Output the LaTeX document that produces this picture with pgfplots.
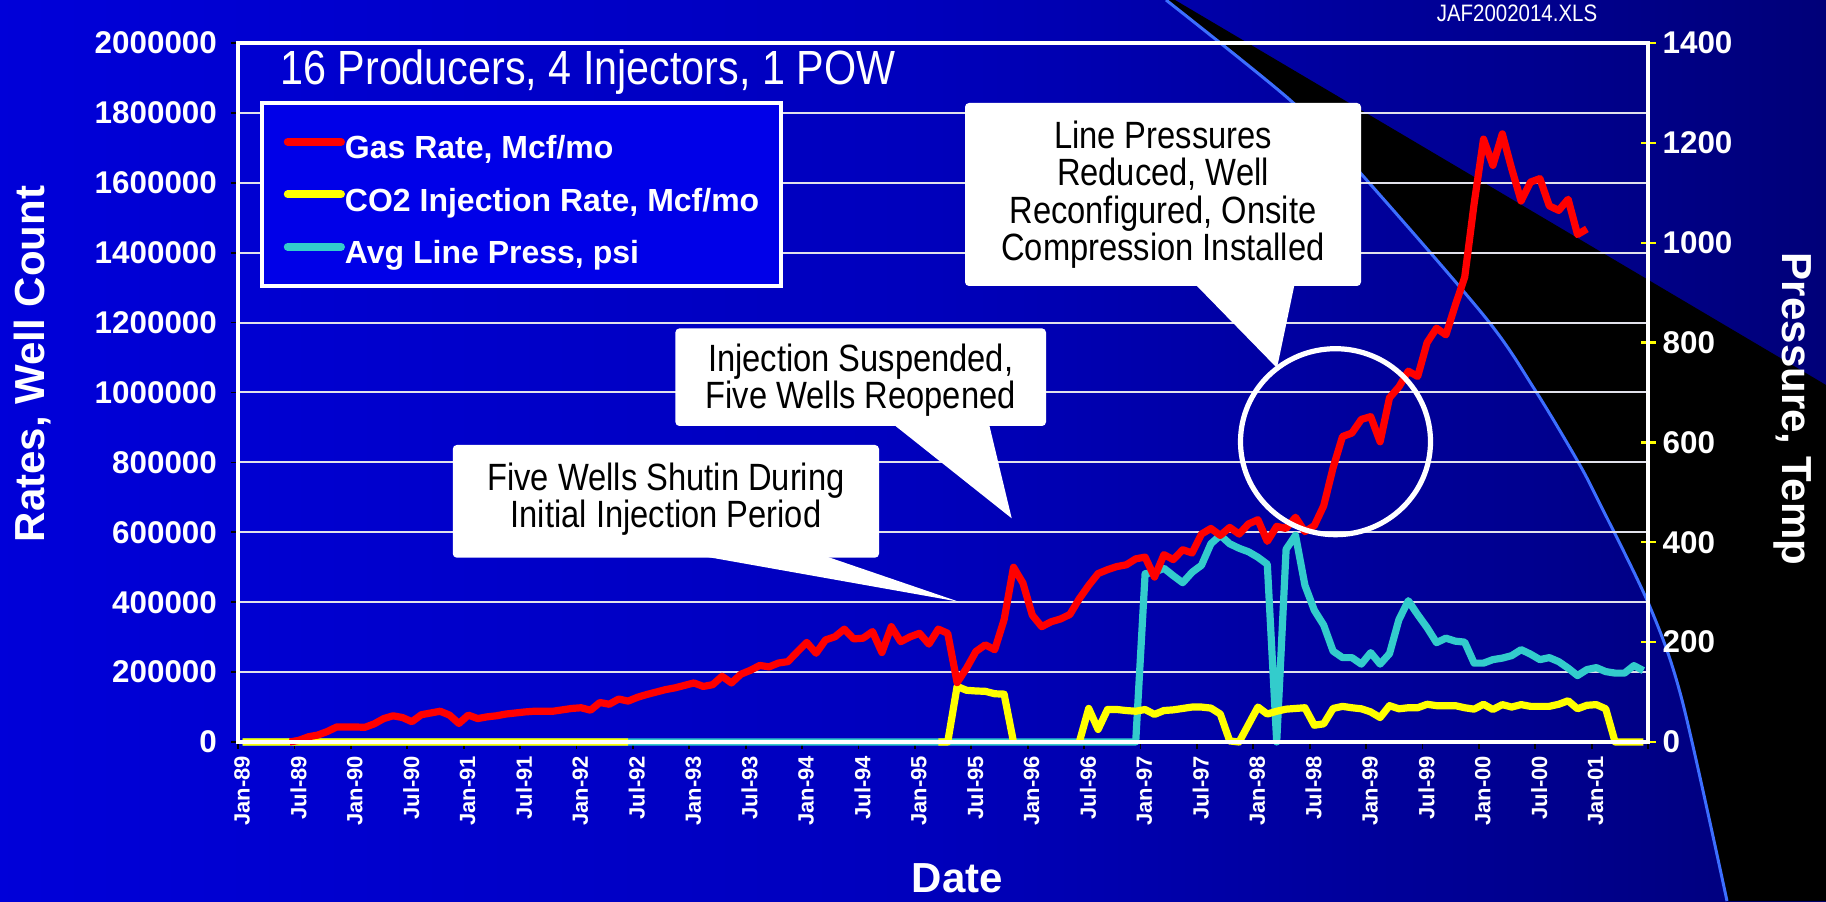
\documentclass[border=0pt]{standalone}
\usepackage{fontspec}
\setmainfont{Liberation Sans}
\newfontfamily\narrow[FakeStretch=0.86]{Liberation Sans}
\usepackage{pgfplots}
\pgfplotsset{compat=1.18}
\usepackage{pgfplotstable}

\definecolor{gasred}{RGB}{255,0,0}
\definecolor{co2yel}{RGB}{255,255,0}
\definecolor{presscyan}{RGB}{51,204,204}
\definecolor{arcblue}{RGB}{60,110,255}
\definecolor{legblue}{RGB}{0,0,232}
\definecolor{gridgray}{RGB}{225,225,235}

\pgfdeclarehorizontalshading{bgshade}{100bp}{rgb(0bp)=(0,0,0.96); rgb(50bp)=(0,0,0.74); rgb(80bp)=(0,0,0.42); rgb(100bp)=(0,0,0.22)}

% Gas rate, Mcf/mo (x = months since Jan-89, point at mid-month)
\pgfplotstableread[row sep=\\]{
x y\\
5.5 0\\6.5 5000\\7.5 15000\\8.5 20000\\9.5 30000\\
10.5 43000\\11.5 43000\\12.5 43000\\13.5 42000\\14.5 52000\\15.5 67000\\16.5 75000\\17.5 70000\\18.5 58000\\19.5 78000\\
20.5 83000\\21.5 88000\\22.5 77000\\23.5 53000\\24.5 77000\\25.5 67000\\26.5 72000\\27.5 75000\\28.5 80000\\29.5 83000\\
30.5 86000\\31.5 88000\\32.5 88000\\33.5 88000\\34.5 92000\\35.5 96000\\36.5 98000\\37.5 91000\\38.5 113000\\39.5 108000\\
40.5 123000\\41.5 117000\\42.5 128000\\43.5 136000\\44.5 143000\\45.5 150000\\46.5 155000\\47.5 162000\\48.5 169000\\49.5 159000\\
50.5 164000\\51.5 188000\\52.5 169000\\53.5 194000\\54.5 205000\\55.5 219000\\56.5 215000\\57.5 226000\\58.5 230000\\59.5 258000\\
60.5 285000\\61.5 254000\\62.5 292000\\63.5 301000\\64.5 323000\\65.5 295000\\66.5 297000\\67.5 316000\\68.5 256000\\69.5 330000\\
70.5 287000\\71.5 301000\\72.5 311000\\73.5 280000\\74.5 323000\\75.5 311000\\76.5 170000\\77.5 211000\\78.5 259000\\79.5 278000\\
80.5 264000\\81.5 350000\\82.5 500000\\83.5 455000\\84.5 363000\\85.5 330000\\86.5 344000\\87.5 352000\\88.5 365000\\89.5 410000\\
90.5 448000\\91.5 482000\\92.5 493000\\93.5 502000\\94.5 507000\\95.5 524000\\96.5 529000\\97.5 472000\\98.5 536000\\99.5 522000\\
100.5 550000\\101.5 541000\\102.5 595000\\103.5 611000\\104.5 591000\\105.5 614000\\106.5 595000\\107.5 624000\\108.5 636000\\109.5 574000\\
110.5 617000\\111.5 611000\\112.5 643000\\113.5 602000\\114.5 619000\\115.5 676000\\116.5 785000\\117.5 874000\\118.5 884000\\119.5 923000\\
120.5 931000\\121.5 859000\\122.5 985000\\123.5 1016000\\124.5 1061000\\125.5 1046000\\126.5 1143000\\127.5 1184000\\128.5 1165000\\129.5 1250000\\
130.5 1330000\\131.5 1540000\\132.5 1725000\\133.5 1650000\\134.5 1740000\\135.5 1640000\\136.5 1548000\\137.5 1602000\\138.5 1612000\\139.5 1534000\\
140.5 1521000\\141.5 1553000\\142.5 1452000\\143.5 1468000\\
}\gasdata

% CO2 injection rate, Mcf/mo (nan = no value)
\pgfplotstableread[row sep=\\]{
x y\\
0.5 0\\1.5 0\\2.5 0\\3.5 0\\4.5 0\\5.5 0\\6.5 0\\7.5 0\\8.5 0\\9.5 0\\
10.5 0\\11.5 0\\12.5 0\\13.5 0\\14.5 0\\15.5 0\\16.5 0\\17.5 0\\18.5 0\\19.5 0\\
20.5 0\\21.5 0\\22.5 0\\23.5 0\\24.5 0\\25.5 0\\26.5 0\\27.5 0\\28.5 0\\29.5 0\\
30.5 0\\31.5 0\\32.5 0\\33.5 0\\34.5 0\\35.5 0\\36.5 0\\37.5 0\\38.5 0\\39.5 0\\
40.5 0\\41.5 0\\42.5 nan\\
74.5 0\\75.5 0\\76.5 159000\\77.5 148000\\78.5 146000\\79.5 145000\\80.5 138000\\81.5 137000\\82.5 0\\83.5 nan\\
89.5 0\\90.5 96000\\91.5 36000\\92.5 93000\\93.5 93000\\94.5 90000\\95.5 88000\\96.5 93000\\97.5 79000\\98.5 90000\\99.5 92000\\
100.5 96000\\101.5 100000\\102.5 100000\\103.5 97000\\104.5 80000\\105.5 3000\\106.5 0\\107.5 50000\\108.5 100000\\109.5 80000\\
110.5 88000\\111.5 94000\\112.5 96000\\113.5 98000\\114.5 48000\\115.5 52000\\116.5 96000\\117.5 102000\\118.5 98000\\119.5 95000\\
120.5 86000\\121.5 70000\\122.5 104000\\123.5 95000\\124.5 98000\\125.5 98000\\126.5 108000\\127.5 104000\\128.5 104000\\129.5 104000\\
130.5 98000\\131.5 94000\\132.5 108000\\133.5 93000\\134.5 107000\\135.5 100000\\136.5 107000\\137.5 102000\\138.5 102000\\139.5 102000\\
140.5 108000\\141.5 118000\\142.5 95000\\143.5 105000\\144.5 107000\\145.5 95000\\146.5 0\\147.5 0\\148.5 0\\149.5 0\\
}\codata

% Avg line pressure, psi
\pgfplotstableread[row sep=\\]{
x y\\
0.5 0\\1.5 0\\2.5 0\\3.5 0\\4.5 0\\5.5 0\\6.5 0\\7.5 0\\8.5 0\\9.5 0\\
10.5 0\\11.5 0\\12.5 0\\13.5 0\\14.5 0\\15.5 0\\16.5 0\\17.5 0\\18.5 0\\19.5 0\\
20.5 0\\21.5 0\\22.5 0\\23.5 0\\24.5 0\\25.5 0\\26.5 0\\27.5 0\\28.5 0\\29.5 0\\
30.5 0\\31.5 0\\32.5 0\\33.5 0\\34.5 0\\35.5 0\\36.5 0\\37.5 0\\38.5 0\\39.5 0\\
40.5 0\\41.5 0\\42.5 0\\43.5 0\\44.5 0\\45.5 0\\46.5 0\\47.5 0\\48.5 0\\49.5 0\\
50.5 0\\51.5 0\\52.5 0\\53.5 0\\54.5 0\\55.5 0\\56.5 0\\57.5 0\\58.5 0\\59.5 0\\
60.5 0\\61.5 0\\62.5 0\\63.5 0\\64.5 0\\65.5 0\\66.5 0\\67.5 0\\68.5 0\\69.5 0\\
70.5 0\\71.5 0\\72.5 0\\73.5 0\\74.5 0\\75.5 0\\76.5 0\\77.5 0\\78.5 0\\79.5 0\\
80.5 0\\81.5 0\\82.5 0\\83.5 0\\84.5 0\\85.5 0\\86.5 0\\87.5 0\\88.5 0\\89.5 0\\
90.5 0\\91.5 0\\92.5 0\\93.5 0\\94.5 0\\95.5 0\\96.5 337\\97.5 340\\98.5 348\\99.5 333\\
100.5 319\\101.5 340\\102.5 354\\103.5 397\\104.5 414\\105.5 397\\106.5 388\\107.5 381\\108.5 370\\109.5 356\\
110.5 0\\111.5 386\\112.5 414\\113.5 314\\114.5 264\\115.5 234\\116.5 182\\117.5 169\\118.5 169\\119.5 156\\
120.5 179\\121.5 156\\122.5 177\\123.5 245\\124.5 283\\125.5 255\\126.5 229\\127.5 199\\128.5 208\\129.5 202\\
130.5 200\\131.5 158\\132.5 158\\133.5 165\\134.5 168\\135.5 173\\136.5 185\\137.5 176\\138.5 165\\139.5 169\\
140.5 161\\141.5 148\\142.5 133\\143.5 145\\144.5 149\\145.5 141\\146.5 138\\147.5 138\\148.5 153\\149.5 143\\
}\pressdata

\pgfplotsset{
  chartgeom/.style={at={(119pt,79.5pt)}, anchor=south west, scale only axis,
    width=705pt, height=349.5pt, xmin=0, xmax=150},
}

\begin{document}
\begin{tikzpicture}
\useasboundingbox (0,0) rectangle (913pt,450.5pt);
\begin{scope}[x=0.5pt,y=-0.5pt,shift={(0pt,450.5pt)}]
  \shade[shading=bgshade] (0,0) rectangle (1826,901);
  \fill[black] (1175,0) -- (1826,385) -- (1826,901) -- (1727,901)
     -- plot[smooth] coordinates {(1727,901) (1682,700) (1650,607) (1598,500) (1577,460) (1535,390) (1485,317) (1355,167) (1290,100) (1166,0)} -- cycle;
  \draw[arcblue, line width=1.5pt] plot[smooth] coordinates {(1727,901) (1682,700) (1650,607) (1598,500) (1577,460) (1535,390) (1485,317) (1355,167) (1290,100) (1166,0)};
\end{scope}

% axis A: grid, left and bottom ticks
\begin{axis}[chartgeom,
  ymin=0, ymax=2000000,
  axis x line*=bottom, axis y line*=left,
  axis line style={draw=none},
  scaled y ticks=false,
  ytick={0,200000,400000,600000,800000,1000000,1200000,1400000,1600000,1800000,2000000},
  yticklabels={0,200000,400000,600000,800000,1000000,1200000,1400000,1600000,1800000,2000000},
  ymajorgrids, grid style={gridgray, line width=1pt},
  xtick={0,6,...,150},
  xticklabels={Jan-89,Jul-89,Jan-90,Jul-90,Jan-91,Jul-91,Jan-92,Jul-92,Jan-93,Jul-93,Jan-94,Jul-94,Jan-95,Jul-95,Jan-96,Jul-96,Jan-97,Jul-97,Jan-98,Jul-98,Jan-99,Jul-99,Jan-00,Jul-00,Jan-01,{}},
  tick align=outside, major tick length=3.5pt,
  tick style={black, line width=0.9pt},
  yticklabel style={font=\bfseries\fontsize{15.7}{18}\selectfont, text=white, xshift=-3.5pt},
  xticklabel style={rotate=90, anchor=east, font=\bfseries\fontsize{11}{13}\selectfont, text=white, yshift=-2pt},
]
\end{axis}

% axis B: pressure (right)
\begin{axis}[chartgeom,
  ymin=0, ymax=1400, clip=false,
  axis x line=none, axis y line*=right,
  axis line style={draw=none},
  ytick={0,200,400,600,800,1000,1200,1400},
  yticklabels={0,200,400,600,800,1000,1200,1400},
  tick align=center, major tick length=7.5pt,
  ytick style={co2yel, line width=1.1pt},
  yticklabel style={font=\bfseries\fontsize{15.7}{18}\selectfont, text=white},
]
\addplot[presscyan, line width=3.6pt, line join=round] table {\pressdata};
\end{axis}

% axis C: rates (left), frame, legend
\begin{axis}[chartgeom,
  ymin=0, ymax=2000000, clip=false,
  axis on top, ticks=none,
  axis line style={white, line width=2pt},
  legend cell align=left,
  legend image code/.code={\draw[#1, line width=4pt, line cap=round] (0pt,0pt) -- (26.6pt,0pt);},
  legend style={at={(rel axis cs:0.0156,0.917)}, anchor=north west,
    fill=legblue, draw=white, line width=1.8pt, text=white,
    font=\bfseries\fontsize{16}{19}\selectfont,
    inner xsep=11pt, inner ysep=8pt, row sep=3.25pt,
    nodes={inner sep=0pt, text height=20pt, text depth=3pt},
    /tikz/every even column/.append style={column sep=2pt}},
]
\addlegendimage{gasred}
\addlegendentry{Gas Rate, Mcf/mo}
\addlegendimage{co2yel}
\addlegendentry{CO2 Injection Rate, Mcf/mo}
\addlegendimage{presscyan}
\addlegendentry{Avg Line Press, psi}
\addplot[co2yel, line width=3.6pt, line join=round, unbounded coords=jump, forget plot] table {\codata};
\addplot[gasred, line width=3.6pt, line join=round, forget plot] table {\gasdata};
\end{axis}

\begin{scope}[x=0.5pt,y=-0.5pt,shift={(0pt,450.5pt)}]
  % title and file name
  \node[anchor=base west, inner sep=0pt, text=white, font=\narrow\fontsize{24}{26}\selectfont] at (280,85) {16 Producers, 4 Injectors, 1 POW};
  \node[anchor=base, inner sep=0pt, text=white, font=\narrow\fontsize{11.9}{13}\selectfont] at (1517,22) {JAF2002014.XLS};
  % axis titles
  \node[rotate=90, inner sep=0pt, text=white, font=\bfseries\fontsize{21}{24}\selectfont] at (33,364) {Rates, Well Count};
  \node[rotate=-90, inner sep=0pt, text=white, font=\bfseries\fontsize{21}{24}\selectfont] at (1793,409) {Pressure, Temp};
  \node[anchor=base, inner sep=0pt, text=white, font=\bfseries\fontsize{21}{24}\selectfont] at (957.5,892) {Date};
  % callout 1
  \fill[white, rounded corners=2pt] (452.8,445) rectangle (879,557.7);
  \fill[white] (702,556) -- (825,556) -- (958.7,601.7) -- cycle;
  \node[anchor=base, inner sep=0pt, font=\narrow\fontsize{19}{20}\selectfont] at (666,491) {Five Wells Shutin During};
  \node[anchor=base, inner sep=0pt, font=\narrow\fontsize{19}{20}\selectfont] at (666,527.5) {Initial Injection Period};
  % callout 2
  \fill[white, rounded corners=2pt] (675.4,328.4) rectangle (1046,426);
  \fill[white] (893,424) -- (989,424) -- (1011.7,518.3) -- cycle;
  \node[anchor=base, inner sep=0pt, font=\narrow\fontsize{19}{20}\selectfont] at (860.7,372) {Injection Suspended,};
  \node[anchor=base, inner sep=0pt, font=\narrow\fontsize{19}{20}\selectfont] at (860.7,409) {Five Wells Reopened};
  % callout 3
  \fill[white, rounded corners=2pt] (965,103) rectangle (1361,286);
  \fill[white] (1195,284) -- (1294.6,284) -- (1277,368) -- cycle;
  \node[anchor=base, inner sep=0pt, font=\narrow\fontsize{19}{20}\selectfont] at (1163,148.5) {Line Pressures};
  \node[anchor=base, inner sep=0pt, font=\narrow\fontsize{19}{20}\selectfont] at (1163,186) {Reduced, Well};
  \node[anchor=base, inner sep=0pt, font=\narrow\fontsize{19}{20}\selectfont] at (1163,223.5) {Reconfigured, Onsite};
  \node[anchor=base, inner sep=0pt, font=\narrow\fontsize{19}{20}\selectfont] at (1163,261) {Compression Installed};
  % circle
  \draw[white, line width=2.6pt] (1335.5,441.7) ellipse [x radius=47.5pt, y radius=46.5pt];
\end{scope}
\end{tikzpicture}
\end{document}
